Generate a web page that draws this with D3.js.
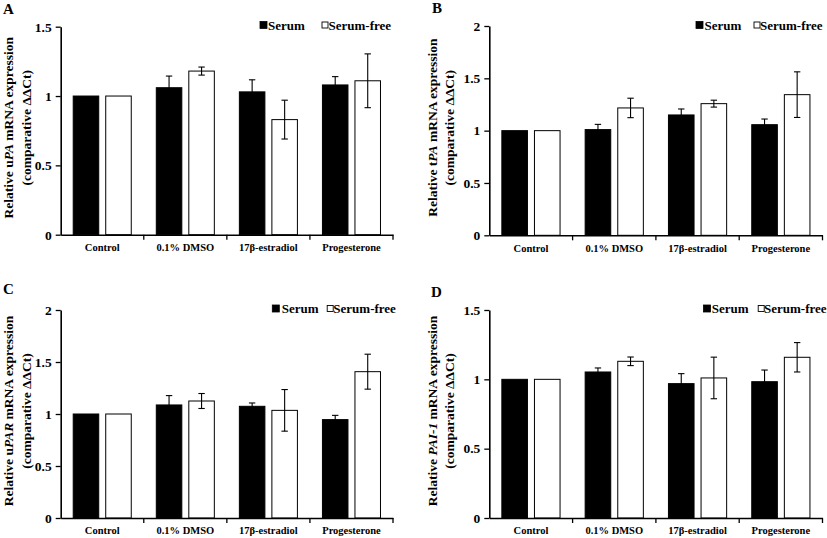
<!DOCTYPE html>
<html>
<head>
<meta charset="utf-8">
<script src="https://cdn.jsdelivr.net/npm/d3@7"></script>
<style>
  html, body { margin: 0; padding: 0; background: #fff; }
  svg { display: block; }
  text { font-family: "Liberation Serif", "Times New Roman", serif; font-weight: bold; fill: #000; }
</style>
</head>
<body>
<svg id="chart" width="827" height="538"></svg>
<script>
// ---------- DATA ----------
const categories = ["Control", "0.1% DMSO", "17β-estradiol", "Progesterone"];
const seriesNames = ["Serum", "Serum-free"];

const uPA_serum     = [1.00, 1.06, 1.03, 1.08];
const uPA_serumErr  = [0, 0.084, 0.087, 0.06];
const uPA_free      = [1.00, 1.18, 0.83, 1.11];
const uPA_freeErr   = [0, 0.029, 0.14, 0.194];

const tPA_serum     = [1.00, 1.01, 1.15, 1.057];
const tPA_serumErr  = [0, 0.05, 0.057, 0.054];
const tPA_free      = [1.00, 1.217, 1.258, 1.344];
const tPA_freeErr   = [0, 0.093, 0.033, 0.218];

const uPAR_serum    = [1.00, 1.087, 1.074, 0.946];
const uPAR_serumErr = [0, 0.09, 0.032, 0.041];
const uPAR_free     = [1.00, 1.125, 1.035, 1.407];
const uPAR_freeErr  = [0, 0.072, 0.2, 0.168];

const PAI1_serum    = [1.00, 1.053, 0.969, 0.983];
const PAI1_serumErr = [0, 0.029, 0.072, 0.084];
const PAI1_free     = [1.00, 1.130, 1.010, 1.159];
const PAI1_freeErr  = [0, 0.031, 0.15, 0.106];

const ticks15 = [0, 0.5, 1, 1.5];
const ticks20 = [0, 0.5, 1, 1.5, 2];

// gene label: [upright prefix, italic part]
const panels = [
  { letter: "A", gene: ["u", "PA"],   serum: uPA_serum,  serumErr: uPA_serumErr,  free: uPA_free,  freeErr: uPA_freeErr,  ymax: 1.5, ticks: ticks15 },
  { letter: "B", gene: ["t", "PA"],   serum: tPA_serum,  serumErr: tPA_serumErr,  free: tPA_free,  freeErr: tPA_freeErr,  ymax: 2,   ticks: ticks20 },
  { letter: "C", gene: ["u", "PAR"],  serum: uPAR_serum, serumErr: uPAR_serumErr, free: uPAR_free, freeErr: uPAR_freeErr, ymax: 2,   ticks: ticks20 },
  { letter: "D", gene: ["", "PAI-1"], serum: PAI1_serum, serumErr: PAI1_serumErr, free: PAI1_free, freeErr: PAI1_freeErr, ymax: 1.5, ticks: ticks15 }
];

// ---------- LAYOUT ----------
const layout = [
  { x0: 60.7,  x1: 393,   y0: 234.7, yTop: 26.7, letterX: 3,   letterY: 14,  t1: 48, t2: 30, lg: [133, 125, 71.5, 64.5], lgY: 25 },
  { x0: 489.3, x1: 822.5, y0: 235.3, yTop: 26,   letterX: 432, letterY: 13,  t1: 52, t2: 35, lg: [126.5, 118, 69, 62.5], lgY: 25 },
  { x0: 60.7,  x1: 393,   y0: 518,   yTop: 310,  letterX: 3,   letterY: 294, t1: 48, t2: 30, lg: [120.7, 111.3, 66.3, 59.7], lgY: 308.5 },
  { x0: 489.3, x1: 822.5, y0: 518,   yTop: 310,  letterX: 431, letterY: 297, t1: 52, t2: 35, lg: [119, 110.8, 64.8, 58.5], lgY: 308.5 }
];

const svg = d3.select("#chart");

panels.forEach((p, i) => {
  const L = layout[i];
  const g = svg.append("g");

  const x = d3.scaleBand().domain(categories).range([L.x0, L.x1]).paddingInner(0).paddingOuter(0);
  const xs = d3.scaleBand().domain(seriesNames).range([0, x.bandwidth()]).paddingInner(0.215).paddingOuter(0.385);
  const y = d3.scaleLinear().domain([0, p.ymax]).range([L.y0, L.yTop]);

  const rows = [];
  categories.forEach((c, k) => {
    rows.push({ cat: c, s: "Serum", v: p.serum[k], e: p.serumErr[k] });
    rows.push({ cat: c, s: "Serum-free", v: p.free[k], e: p.freeErr[k] });
  });

  // bars
  g.selectAll("rect.bar").data(rows).join("rect")
    .attr("class", "bar")
    .attr("x", d => x(d.cat) + xs(d.s))
    .attr("width", xs.bandwidth())
    .attr("y", d => y(d.v))
    .attr("height", d => y(0) - y(d.v))
    .attr("fill", d => d.s === "Serum" ? "#000" : "#fff")
    .attr("stroke", "#000")
    .attr("stroke-width", 1);

  // error bars
  const eb = rows.filter(d => d.e > 0);
  const cap = 3.2;
  const eg = g.selectAll("g.err").data(eb).join("g").attr("class", "err")
    .attr("stroke", "#000").attr("stroke-width", 1.1);
  eg.append("line")
    .attr("x1", d => x(d.cat) + xs(d.s) + xs.bandwidth() / 2)
    .attr("x2", d => x(d.cat) + xs(d.s) + xs.bandwidth() / 2)
    .attr("y1", d => y(d.v - d.e)).attr("y2", d => y(d.v + d.e));
  eg.append("line")
    .attr("x1", d => x(d.cat) + xs(d.s) + xs.bandwidth() / 2 - cap)
    .attr("x2", d => x(d.cat) + xs(d.s) + xs.bandwidth() / 2 + cap)
    .attr("y1", d => y(d.v + d.e)).attr("y2", d => y(d.v + d.e));
  eg.append("line")
    .attr("x1", d => x(d.cat) + xs(d.s) + xs.bandwidth() / 2 - cap)
    .attr("x2", d => x(d.cat) + xs(d.s) + xs.bandwidth() / 2 + cap)
    .attr("y1", d => y(d.v - d.e)).attr("y2", d => y(d.v - d.e));
  eg.filter(d => d.s === "Serum").attr("stroke", "#000");

  // y axis
  const yAxis = d3.axisLeft(y).tickValues(p.ticks).tickFormat(d => String(d)).tickSize(5).tickSizeOuter(0).tickPadding(4);
  const ya = g.append("g").attr("transform", `translate(${L.x0},0)`).call(yAxis);
  ya.select(".domain").attr("stroke", "#000").attr("stroke-width", 1.6);
  ya.selectAll(".tick line").attr("stroke", "#000").attr("stroke-width", 1.3);
  ya.selectAll(".tick text").style("font-size", "13.5px").style("font-family", "'Liberation Serif', serif").style("font-weight", "bold");

  // x axis (labels at centers, ticks at band boundaries)
  const xAxis = d3.axisBottom(x).tickSize(0).tickSizeOuter(0).tickPadding(9);
  const xa = g.append("g").attr("transform", `translate(0,${L.y0})`).call(xAxis);
  xa.select(".domain").attr("stroke", "#000").attr("stroke-width", 1.6);
  xa.selectAll(".tick text").style("font-size", "10.5px").style("font-family", "'Liberation Serif', serif").style("font-weight", "bold");
  g.selectAll("line.xtick").data(categories).join("line").attr("class", "xtick")
    .attr("x1", c => x(c) + x.bandwidth()).attr("x2", c => x(c) + x.bandwidth())
    .attr("y1", L.y0).attr("y2", L.y0 + 5)
    .attr("stroke", "#000").attr("stroke-width", 1.3);

  // y axis title
  const cy = (L.y0 + L.yTop) / 2 - 3;
  const t1 = g.append("text")
    .attr("transform", `translate(${L.x0 - L.t1},${cy}) rotate(-90)`)
    .attr("text-anchor", "middle").style("font-size", "13.5px");
  t1.append("tspan").text("Relative " + p.gene[0]);
  t1.append("tspan").style("font-style", "italic").text(p.gene[1]);
  t1.append("tspan").text(" mRNA expression");
  g.append("text")
    .attr("transform", `translate(${L.x0 - L.t2},${cy}) rotate(-90)`)
    .attr("text-anchor", "middle").style("font-size", "13.5px")
    .text("(comparative ΔΔCt)");

  // panel letter
  g.append("text").attr("x", L.letterX).attr("y", L.letterY).style("font-size", "15px").text(p.letter);

  // legend
  const sq = 7;
  const lg = g.append("g");
  lg.append("rect").attr("x", L.x1 - L.lg[0]).attr("y", L.lgY - sq / 2).attr("width", sq).attr("height", sq)
    .attr("fill", "#000").attr("stroke", "#000").attr("stroke-width", 0.8);
  lg.append("text").attr("x", L.x1 - L.lg[1]).attr("y", L.lgY + 4.5).style("font-size", "13px").text(seriesNames[0]);
  lg.append("rect").attr("x", L.x1 - L.lg[2] + 0.5).attr("y", L.lgY - sq / 2 + 0.5).attr("width", sq - 1).attr("height", sq - 1)
    .attr("fill", "#fff").attr("stroke", "#000").attr("stroke-width", 0.9);
  lg.append("text").attr("x", L.x1 - L.lg[3]).attr("y", L.lgY + 4.5).style("font-size", "13px").text(seriesNames[1]);
});
</script>
</body>
</html>
